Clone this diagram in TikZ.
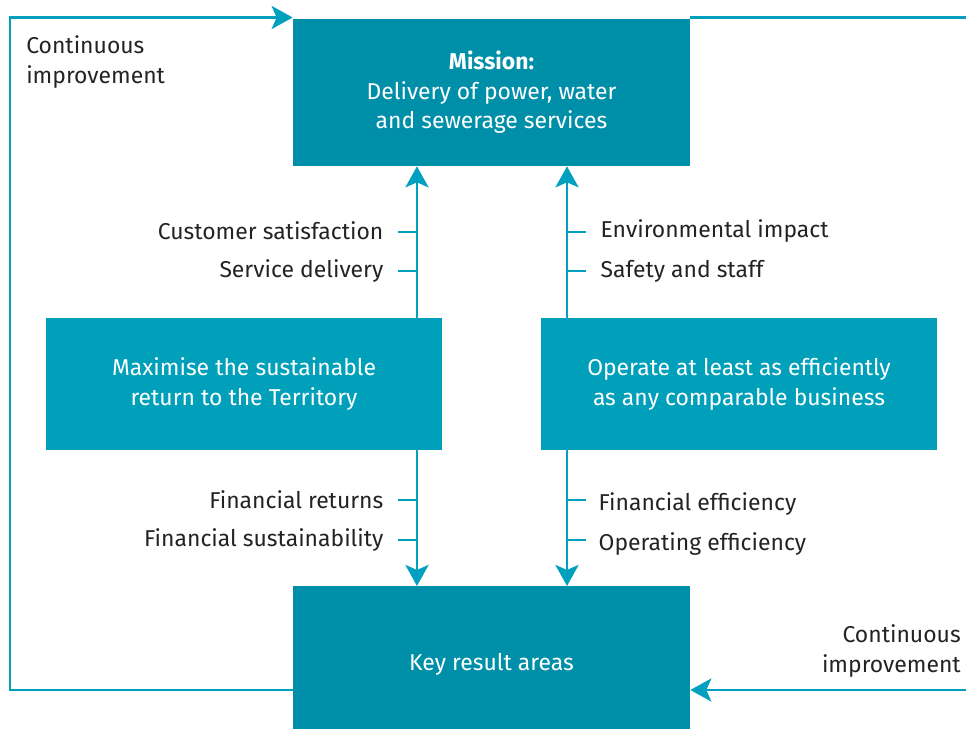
\documentclass[tikz,border=0pt]{standalone}
\usepackage{fontspec}
\setmainfont{Fira Sans}
\usepackage{xcolor}
\usetikzlibrary{arrows.meta,positioning,calc}

\definecolor{tealdark}{RGB}{0,143,168}
\definecolor{teallight}{RGB}{0,160,186}
\definecolor{tealline}{RGB}{0,160,190}
\definecolor{txtgray}{RGB}{35,35,35}

\begin{document}
\begin{tikzpicture}[
  x=0.025cm, y=-0.025cm,
  font=\fontsize{16.3}{20.9}\selectfont,
  box/.style={fill=#1, text=white, align=center, inner sep=0pt},
  arr/.style={-{Stealth[length=0.525cm, width=0.575cm, inset=0.125cm]}, line width=2.1pt, draw=tealline},
  line/.style={line width=2.1pt, draw=tealline},
  tick/.style={line width=2.1pt, draw=tealline},
  lbl/.style={text=txtgray, inner sep=0pt}
]
  \useasboundingbox (0,0) rectangle (966,729);

  % boxes
  \node[box=tealdark, minimum width=9.925cm, minimum height=3.675cm] (mission) at (491.5,92.5)
    {{\bfseries Mission:}\\Delivery of power, water\\and sewerage services};
  \node[box=teallight, minimum width=9.9cm, minimum height=3.3cm] (return) at (244,384)
    {Maximise the sustainable\\return to the Territory};
  \node[box=teallight, minimum width=9.9cm, minimum height=3.3cm] (operate) at (739,384)
    {Operate at least as efficiently\\as any comparable business};
  \node[box=tealdark, minimum width=9.925cm, minimum height=3.675cm, anchor=north,
        text height=18.5pt] (kra) at (491.5,586)
    {Key result areas};

  % vertical links
  \coordinate (lx) at (417,0);
  \coordinate (rx) at (567,0);
  \draw[arr] (return.north -| lx) -- (mission.south -| lx);
  \draw[arr] (operate.north -| rx) -- (mission.south -| rx);
  \draw[arr] (return.south -| lx) -- (kra.north -| lx);
  \draw[arr] (operate.south -| rx) -- (kra.north -| rx);

  % ticks and their labels
  \coordinate (t1) at (417,232);
  \coordinate (t2) at (417,271);
  \coordinate (t3) at (567,232);
  \coordinate (t4) at (567,271);
  \coordinate (t5) at (417,500);
  \coordinate (t6) at (417,540);
  \coordinate (t7) at (567,500);
  \coordinate (t8) at (567,540);
  \draw[tick] (t1) -- ++(-19,0) node[lbl, left=0.33cm, yshift=1pt] {Customer satisfaction};
  \draw[tick] (t2) -- ++(-19,0) node[lbl, left=0.33cm] {Service delivery};
  \draw[tick] (t3) -- ++(19,0) node[lbl, right=0.33cm, yshift=1pt] {Environmental impact};
  \draw[tick] (t4) -- ++(19,0) node[lbl, right=0.33cm] {Safety and staff};
  \draw[tick] (t5) -- ++(-19,0) node[lbl, left=0.33cm] {Financial returns};
  \draw[tick] (t6) -- ++(-19,0) node[lbl, left=0.33cm] {Financial sustainability};
  \draw[tick] (t7) -- ++(19,0) node[lbl, right=0.28cm, yshift=-2.5pt] {Financial efficiency};
  \draw[tick] (t8) -- ++(19,0) node[lbl, right=0.28cm, yshift=-2.5pt] {Operating efficiency};

  % feedback loop
  \coordinate (lb) at (10,690);
  \coordinate (lt) at (10,17.5);
  \coordinate (rt) at (966,17.5);
  \coordinate (rb) at (966,690);
  \draw[arr] (kra.west |- lb) -- (lb) -- (lt) -- (mission.north west |- lt);
  \draw[line] (mission.north east |- rt) -- (rt);
  \draw[arr] (rb) -- (kra.east |- rb);

  \node[lbl, align=left, anchor=west] (ci1) at (26,62) {Continuous\\improvement};
  \node[lbl, align=right, anchor=east] (ci2) at (961,651) {Continuous\\improvement};
\end{tikzpicture}
\end{document}
